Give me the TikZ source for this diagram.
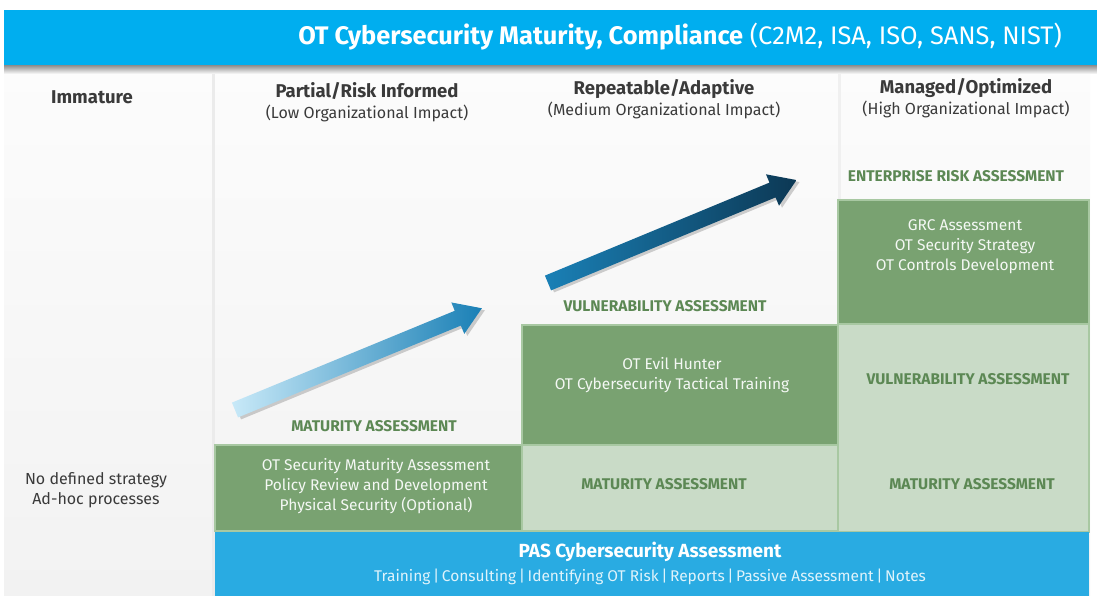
\documentclass[tikz,border=0pt]{standalone}
\usepackage{fontspec}
\setmainfont{Fira Sans}
\usetikzlibrary{shadings}
\definecolor{topblue}{RGB}{0,174,239}
\definecolor{botblue}{RGB}{41,171,226}
\definecolor{dgreen}{RGB}{121,162,113}
\definecolor{lgreen}{RGB}{201,219,199}
\definecolor{gline}{RGB}{168,200,162}
\definecolor{gtext}{RGB}{92,136,84}
\definecolor{dtext}{RGB}{58,58,58}
\definecolor{bgtop}{RGB}{252,252,252}
\definecolor{bgbot}{RGB}{242,242,242}
\definecolor{aone}{RGB}{200,233,248}
\definecolor{atwo}{RGB}{26,128,182}
\definecolor{athree}{RGB}{12,56,84}
\tikzset{
  dbox/.style={fill=dgreen, draw=gline, line width=1.5pt},
  lbox/.style={fill=lgreen, draw=gline, line width=1.5pt},
  head/.style={text=dtext, font=\fontsize{18.5}{22}\selectfont\bfseries, inner sep=0pt},
  sub/.style={text=dtext, font=\fontsize{16}{19}\selectfont, inner sep=0pt},
  glabel/.style={text=gtext, font=\fontsize{15.5}{18}\selectfont\bfseries, inner sep=0pt},
  wtext/.style={text=white!92!dgreen, font=\fontsize{15.5}{20}\selectfont, align=center, inner sep=0pt},
}
\begin{document}
\begin{tikzpicture}[x=1pt,y=-1pt]
\useasboundingbox (0,0) rectangle (1097,596);
\fill[white] (0,0) rectangle (1097,596);
% background panel
\shade[top color=bgtop, bottom color=bgbot] (4,65) rectangle (1090,596);
% column dividers
\fill[black!8] (212,65) rectangle (215,596);
\fill[black!6] (838,65) rectangle (841,200);
% top bar shadow
\shade[top color=black!55, bottom color=bgtop] (4,63) rectangle (1097,74);
% top bar
\fill[topblue] (4,10) rectangle (1097,65);
\node[text=white, font=\fontsize{25.4}{28}\selectfont, anchor=east, inner sep=0pt] (title) at (1062,37)
  {\textbf{OT Cybersecurity Maturity, Compliance} (C2M2, ISA, ISO, SANS, NIST)};
% column headings
\node[head] (imm) at (92,97) {Immature};
\node[head] (h1) at (367,91) {Partial/Risk Informed};
\node[sub] (s1) at (367,113) {(Low Organizational Impact)};
\node[head] (h2) at (664,89) {Repeatable/Adaptive};
\node[sub] (s2) at (664,110) {(Medium Organizational Impact)};
\node[head] (h3) at (966,88) {Managed/Optimized};
\node[sub] (s3) at (966,109) {(High Organizational Impact)};
% boxes
\draw[dbox] (215,445) rectangle (522,531);
\draw[lbox] (522,445) rectangle (838,531);
\draw[dbox] (522,325) rectangle (838,445);
\draw[lbox] (838,324) rectangle (1089,532);
\draw[dbox] (838,200) rectangle (1089,324);
% box texts
\node[wtext] (b1) at (376,486) {OT Security Maturity Assessment\\Policy Review and Development\\Physical Security (Optional)};
\node[wtext] (b2) at (672,375) {OT Evil Hunter\\OT Cybersecurity Tactical Training};
\node[wtext] (b3) at (965,247) {GRC Assessment\\OT Security Strategy\\OT Controls Development};
\node[glabel] (m2) at (664,484) {MATURITY ASSESSMENT};
\node[glabel] (v3) at (968,379) {VULNERABILITY ASSESSMENT};
\node[glabel] (m3) at (972,484) {MATURITY ASSESSMENT};
% labels above steps
\node[glabel] (m1) at (374,426) {MATURITY ASSESSMENT};
\node[glabel] (v2) at (665,306) {VULNERABILITY ASSESSMENT};
\node[glabel] (e3) at (956,176) {ENTERPRISE RISK ASSESSMENT};
% immature text
\node[sub, align=center, font=\fontsize{16}{20}\selectfont] (nd) at (96,490) {No defined strategy\\Ad-hoc processes};
% bottom bar
\fill[botblue] (215,532) rectangle (1089,596);
\node[text=white, font=\fontsize{19}{22}\selectfont\bfseries, inner sep=0pt] (pas) at (650,552) {PAS Cybersecurity Assessment};
\node[text=white!85!botblue, font=\fontsize{15.5}{18}\selectfont, inner sep=0pt] (pasl) at (650,577)
  {Training\,|\,Consulting\,|\,Identifying OT Risk\,|\,Reports\,|\,Passive Assessment\,|\,Notes};
% arrows
\begin{scope}[shift={(235,410)}, rotate=22.4]
  \fill[black, opacity=0.18] (2,-5) -- (243,-5) -- (243,-14) -- (269,3) -- (243,20) -- (243,11) -- (2,11) -- cycle;
  \shade[left color=aone, right color=atwo] (0,8) -- (241,8) -- (241,17) -- (267,0) -- (241,-17) -- (241,-8) -- (0,-8) -- cycle;
\end{scope}
\begin{scope}[shift={(548,283)}, rotate=22.5]
  \fill[black, opacity=0.18] (2,-5) -- (245,-5) -- (245,-14) -- (271,3) -- (245,20) -- (245,11) -- (2,11) -- cycle;
  \shade[left color=atwo, right color=athree] (0,8) -- (243,8) -- (243,17) -- (269,0) -- (243,-17) -- (243,-8) -- (0,-8) -- cycle;
\end{scope}
\end{tikzpicture}
\end{document}
